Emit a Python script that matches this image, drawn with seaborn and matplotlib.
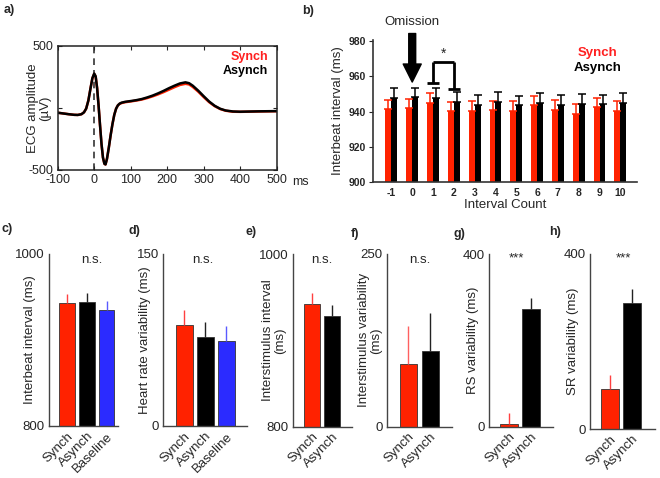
import numpy as np
import pandas as pd
import seaborn as sns
import matplotlib.pyplot as plt

sns.set_style('ticks')
plt.rcParams['font.family'] = ['Liberation Sans', 'DejaVu Sans']
plt.rcParams['axes.unicode_minus'] = False

RED = '#ff2200'
RED_TXT = '#ff2020'
BLUE = '#2b2bff'

# a) averaged ECG around the R peak (uV)
ecg_t = [-100, -85, -70, -55, -45, -35, -28, -22, -16, -10, -5, 0, 4, 8, 12, 16, 20, 24, 28, 31,
         35, 40, 45, 50, 55, 60, 65, 70, 75, 85, 100, 115, 130, 145, 160, 175, 190, 205, 220,
         235, 250, 260, 270, 285, 300, 315, 330, 345, 360, 380, 400, 450, 500]
ecg_asynch = [-38, -44, -50, -55, -56, -50, -35, -5, 60, 160, 240, 278, 255, 160, 20, -140,
              -290, -400, -450, -455, -410, -320, -220, -130, -55, -5, 22, 36, 43, 50, 56, 63,
              72, 85, 100, 118, 138, 160, 180, 198, 207, 200, 180, 140, 95, 52, 18, -6, -20,
              -28, -30, -27, -25]
ecg_synch = [-38, -44, -50, -55, -56, -50, -35, -5, 60, 160, 240, 275, 255, 160, 20, -140,
             -290, -400, -450, -455, -410, -320, -220, -130, -55, -5, 22, 34, 40, 47, 53, 60,
             68, 80, 94, 110, 128, 148, 168, 186, 195, 190, 170, 132, 88, 47, 15, -8, -22,
             -30, -31, -28, -26]

# b) interbeat interval by interval count
counts = ['-1', '0', '1', '2', '3', '4', '5', '6', '7', '8', '9', '10']
ibi_synch = [941.5, 941.9, 945.1, 940.3, 940.6, 940.8, 940.4, 943.6, 941.2, 938.9, 942.6, 940.4]
ibi_asynch = [948.0, 948.3, 948.0, 945.5, 943.8, 945.5, 943.6, 945.1, 943.8, 944.5, 944.2, 944.7]
ibi_synch_err = [5.3, 5.3, 5.7, 5.4, 5.6, 5.4, 5.6, 5.3, 5.2, 5.6, 5.4, 5.5]
ibi_asynch_err = [5.6, 5.3, 5.6, 5.5, 5.5, 5.5, 5.3, 5.5, 5.7, 5.5, 5.5, 5.9]

# c-h) condition means with error
cond3 = ['Synch', 'Asynch', 'Baseline']
cond2 = ['Synch', 'Asynch']
ibi_mean = [943, 944, 935]
ibi_err = [10, 11, 10.5]
hrv_mean = [88.3, 77.8, 74.3]
hrv_err = [13, 13, 13]
isi_mean = [941.7, 927.8]
isi_err = [13, 13]
isv_mean = [90.3, 109.2]
isv_err = [55, 56]
rs_mean = [5.4, 272]
rs_err = [27, 26]
sr_mean = [91.6, 289]
sr_err = [32, 31]

fig = plt.figure(figsize=(6.6, 4.78), dpi=100)


def px_axes(l, t, r, b):
    return fig.add_axes([l / 660, 1 - b / 478, (r - l) / 660, (b - t) / 478])


def fig_text(xp, yp, s, **kw):
    fig.text(xp / 660, 1 - yp / 478, s, **kw)


# ---- a) ECG
ax = px_axes(57.7, 46, 276.7, 170)
n = len(ecg_t)
dfa = pd.DataFrame({'t': ecg_t * 2, 'uv': ecg_synch + ecg_asynch,
                    'cond': ['Synch'] * n + ['Asynch'] * n})
sns.lineplot(data=dfa, x='t', y='uv', hue='cond', hue_order=['Synch', 'Asynch'],
             palette={'Synch': RED, 'Asynch': 'black'}, lw=1.8, legend=False, ax=ax)
ax.axvline(0, ls=(0, (4, 3)), color='#333333', lw=1.2, zorder=0)
ax.set_xlim(-100, 500)
ax.set_ylim(-500, 500)
ax.set_xticks(range(-100, 501, 100))
ax.set_yticks([-500, 0, 500])
ax.set_yticklabels(['-500', '', '500'])
ax.tick_params(direction='in', top=True, right=True, length=3, labelsize=9, pad=3)
ax.set_xlabel('')
ax.set_ylabel('ECG amplitude\n(\u00b5V)', fontsize=9.5, linespacing=1.1)
ax.yaxis.set_label_coords(-0.085, 0.5)
ax.yaxis.label.set_verticalalignment('center')
for s in ax.spines.values():
    s.set_linewidth(1.1)
    s.set_color('#222222')
ax.text(0.96, 0.91, 'Synch', color=RED_TXT, fontweight='bold', fontsize=9, ha='right',
        va='center', transform=ax.transAxes)
ax.text(0.96, 0.80, 'Asynch', color='black', fontweight='bold', fontsize=9, ha='right',
        va='center', transform=ax.transAxes)
fig_text(300, 182, 'ms', ha='center', va='center', fontsize=9)

# ---- b) interbeat interval around omission
ax = px_axes(373.3, 39.5, 637, 182)
dfb = pd.DataFrame({'count': counts * 2, 'ibi': ibi_synch + ibi_asynch,
                    'cond': ['Synch'] * 12 + ['Asynch'] * 12})
bw = 0.57
sns.barplot(data=dfb, x='count', y='ibi', hue='cond', order=counts,
            hue_order=['Synch', 'Asynch'], palette={'Synch': RED, 'Asynch': 'black'},
            width=bw, errorbar=None, legend=False, linewidth=0, saturation=1, ax=ax)
xs = np.arange(len(counts))
zeros = np.zeros(len(counts))
ax.errorbar(xs - bw / 4, ibi_synch, yerr=[zeros, ibi_synch_err], fmt='none', ecolor=RED,
            elinewidth=1.1, capsize=3, capthick=1.1)
ax.errorbar(xs + bw / 4, ibi_asynch, yerr=[zeros, ibi_asynch_err], fmt='none', ecolor='black',
            elinewidth=1.1, capsize=3, capthick=1.1)
ax.set_ylim(900, 981)
ax.set_xlim(-0.87, 11.8)
ax.set_yticks([900, 920, 940, 960, 980])
sns.despine(ax=ax)
for s in ['left', 'bottom']:
    ax.spines[s].set_linewidth(1.2)
    ax.spines[s].set_color('#333333')
ax.tick_params(axis='y', direction='out', length=3, labelsize=7.5, pad=2)
ax.tick_params(axis='x', length=0, labelsize=7.5, pad=4)
for lab in ax.get_xticklabels() + ax.get_yticklabels():
    lab.set_fontweight('bold')
ax.set_xlabel('Interval Count', fontsize=9.5, labelpad=1)
ax.set_ylabel('Interbeat interval (ms)', fontsize=9.5)
ax.yaxis.set_label_coords(-0.135, 0.5)
ax.yaxis.label.set_verticalalignment('center')
# omission arrow and label
ax.annotate('', xy=(1, 956.8), xytext=(1, 984.4), annotation_clip=False,
            arrowprops=dict(facecolor='black', edgecolor='black', width=5, headwidth=13,
                            headlength=13))
ax.text(1, 991.2, 'Omission', ha='center', va='center', fontsize=9.5, clip_on=False)
# significance bracket between counts 1 and 2
bl = dict(color='black', lw=2, clip_on=False, solid_capstyle='butt')
ax.plot([2, 2], [956.5, 968.1], **bl)
ax.plot([2, 3], [968.1, 968.1], **bl)
ax.plot([3, 3], [968.1, 953.0], **bl)
ax.plot([1.71, 2.29], [956.5, 956.5], **bl)
ax.plot([2.71, 3.29], [953.0, 953.0], **bl)
ax.text(2.5, 973, '*', ha='center', va='center', fontsize=10)
ax.text(0.852, 0.905, 'Synch', color=RED_TXT, fontweight='bold', fontsize=9.5, ha='center',
        va='center', transform=ax.transAxes)
ax.text(0.852, 0.80, 'Asynch', color='black', fontweight='bold', fontsize=9.5, ha='center',
        va='center', transform=ax.transAxes)


# ---- c-h) small bar panels
def small_bars(box, labels, means, errs, colors, ecolors, ylim, ylabel, label_x, sig, sig_x,
               sig_y, xlim):
    ax = px_axes(*box)
    sns.barplot(x=labels, y=means, hue=labels, palette=colors, legend=False, width=0.8,
                edgecolor='#333333', linewidth=0.6, saturation=1, ax=ax)
    for i, (m, e) in enumerate(zip(means, errs)):
        ax.errorbar(i, m, yerr=[[0], [e]], fmt='none', ecolor=ecolors[i], elinewidth=1.0,
                    capsize=0)
    ax.set_ylim(*ylim)
    ax.set_xlim(*xlim)
    ax.set_yticks(list(ylim))
    ax.set_yticklabels([str(v) for v in ylim])
    sns.despine(ax=ax)
    for s in ['left', 'bottom']:
        ax.spines[s].set_linewidth(1.0)
        ax.spines[s].set_color('#444444')
    ax.tick_params(axis='y', length=0, labelsize=9.5, pad=3)
    ax.tick_params(axis='x', length=0, labelsize=9.5, pad=3)
    for lab in ax.get_xticklabels():
        lab.set_rotation(45)
        lab.set_ha('right')
        lab.set_rotation_mode('anchor')
    ax.set_ylabel(ylabel, fontsize=9.5, linespacing=1.1)
    ax.yaxis.set_label_coords(label_x, 0.5)
    ax.yaxis.label.set_verticalalignment('center')
    ax.text(sig_x, sig_y, sig, ha='center', va='center', fontsize=9.5, transform=ax.transAxes)
    return ax


small_bars((49, 254, 118, 426), cond3, ibi_mean, ibi_err, [RED, 'black', BLUE],
           ['#ff4040', '#222222', '#5a5aff'], (800, 1000), 'Interbeat interval (ms)', -0.275,
           'n.s.', 0.62, 0.965, (-0.91, 2.58))
small_bars((163, 254, 247.3, 426), cond3, hrv_mean, hrv_err, [RED, 'black', BLUE],
           ['#ff4040', '#222222', '#5a5aff'], (0, 150), 'Heart rate variability (ms)', -0.214,
           'n.s.', 0.47, 0.965, (-1.0, 3.0))
small_bars((292.5, 254, 351.7, 426.7), cond2, isi_mean, isi_err, [RED, 'black'],
           ['#ff4040', '#222222'], (800, 1000), 'Interstimulus interval\n(ms)', -0.31,
           'n.s.', 0.49, 0.965, (-0.98, 1.98))
small_bars((386.7, 254, 452, 426.7), cond2, isv_mean, isv_err, [RED, 'black'],
           ['#ff6060', '#222222'], (0, 250), 'Interstimulus variability\n(ms)', -0.256,
           'n.s.', 0.51, 0.965, (-1.0, 2.0))
small_bars((488.7, 254.3, 553, 426.7), cond2, rs_mean, rs_err, [RED, 'black'],
           ['#ff4040', '#222222'], (0, 400), 'RS variability (ms)', -0.244,
           '***', 0.435, 0.975, (-0.9, 2.0))
small_bars((589.7, 254, 655, 429), cond2, sr_mean, sr_err, [RED, 'black'],
           ['#ff4040', '#222222'], (0, 400), 'SR variability (ms)', -0.257,
           '***', 0.51, 0.975, (-0.9, 2.0))

# panel letters
for xp, yp, s in [(9, 10, 'a)'), (308, 11, 'b)'), (7, 229, 'c)'), (134, 231, 'd)'),
                  (251, 232, 'e)'), (355, 234, 'f)'), (459, 234, 'g)'), (555, 232, 'h)')]:
    fig_text(xp, yp, s, ha='center', va='center', fontsize=9, fontweight='bold')

fig.savefig('out.png', dpi=100)
